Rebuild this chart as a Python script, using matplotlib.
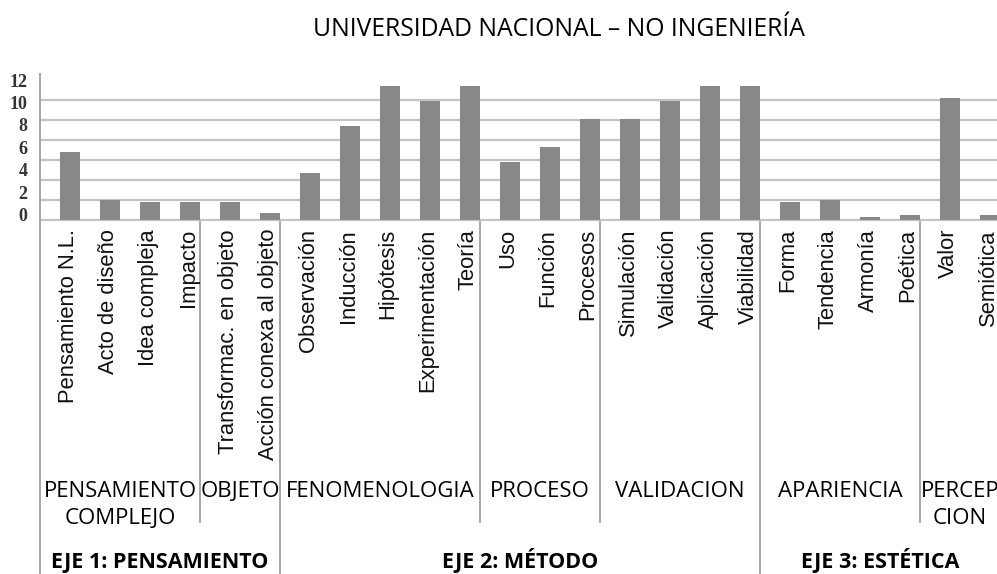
import numpy as np
import matplotlib
matplotlib.use("Agg")
import matplotlib.pyplot as plt

plt.rcParams["font.family"] = ["Liberation Sans", "DejaVu Sans"]

TITLE = "UNIVERSIDAD NACIONAL – NO INGENIERÍA"

CATEGORIES = [
    "Pensamiento N.L.", "Acto de diseño", "Idea compleja", "Impacto",
    "Transformac. en objeto", "Acción conexa al objeto",
    "Observación", "Inducción", "Hipótesis", "Experimentación", "Teoría",
    "Uso", "Función", "Procesos",
    "Simulación", "Validación", "Aplicación", "Viabilidad",
    "Forma", "Tendencia", "Armonía", "Poética",
    "Valor", "Semiótica",
]
VALUES = [
    6.8, 2.0, 1.8, 1.8,
    1.8, 0.7,
    4.7, 9.4, 13.4, 11.9, 13.4,
    5.8, 7.3, 10.1,
    10.1, 11.9, 13.4, 13.4,
    1.8, 2.0, 0.3, 0.5,
    12.2, 0.5,
]

# second tier: (label, first category, last category)
GROUPS = [
    ("PENSAMIENTO\nCOMPLEJO", 0, 3),
    ("OBJETO", 4, 5),
    ("FENOMENOLOGIA", 6, 10),
    ("PROCESO", 11, 13),
    ("VALIDACION", 14, 17),
    ("APARIENCIA", 18, 21),
    ("PERCEP\nCION", 22, 23),
]
AXES = [
    ("EJE 1: PENSAMIENTO", 0, 5),
    ("EJE 2: MÉTODO", 6, 17),
    ("EJE 3: ESTÉTICA", 18, 23),
]

YTICK_LABELS = ["0", "2", "4", "6", "8", "10", "12"]
YTICK_POS = [0.55, 2.8, 5.1, 7.3, 9.6, 11.8, 14.0]
GRID_VALUES = np.arange(0, 15, 2)

BAR_COLOR = "#888888"
GRID_COLOR = "#C4C4C4"
LINE_COLOR = "#A6A6A6"

W, H = 997, 574
fig = plt.figure(figsize=(W / 100, H / 100), dpi=100)

left_px, right_px = 40, 997
top_px, bottom_px = 74, 222.5
ax = fig.add_axes([left_px / W, 1 - bottom_px / H, (right_px - left_px) / W, (bottom_px - top_px) / H])

x = np.arange(len(CATEGORIES))
ax.bar(x + 0.75, VALUES, width=0.5, color=BAR_COLOR, zorder=3)
ax.set_xlim(0, (right_px - left_px) / 40)
ax.set_ylim(-0.25, 14.65)

ax.set_yticks(GRID_VALUES, minor=True)
ax.grid(which="minor", axis="y", color=GRID_COLOR, lw=1.6, zorder=0)
ax.set_yticks(YTICK_POS)
ax.set_yticklabels(YTICK_LABELS, family="Liberation Serif", fontweight="bold",
                   fontsize=13, color="#333333")
ax.tick_params(axis="y", which="both", length=0, pad=9)
ax.set_xticks([])
for s in ax.spines.values():
    s.set_visible(False)

# overlay for the category / group labels, x in category units, y in pixels from top
lab = fig.add_axes([left_px / W, 0, (right_px - left_px) / W, 1], facecolor="none")
lab.set_xlim(ax.get_xlim())
lab.set_ylim(H, 0)
lab.axis("off")

lab.plot([0, 0], [top_px, H], color=LINE_COLOR, lw=1.4, clip_on=False)

for i, name in enumerate(CATEGORIES):
    lab.text(i + 0.7, 229, name, rotation=90, ha="center", va="top",
             fontsize=15.8, color="#111111", clip_on=True)

tier3_bounds = [start for _, start, _ in AXES[1:]]
for _, start, end in GROUPS[1:]:
    y_end = H if start in tier3_bounds else 522
    lab.plot([start, start], [222, y_end], color=LINE_COLOR, lw=1.4)

for name, start, end in GROUPS:
    lab.text((start + end + 1) / 2, 481, name, ha="center", va="top",
             fontsize=16, family="Open Sans", linespacing=1.4, clip_on=True)

for name, start, end in AXES:
    lab.text((start + end + 1) / 2, 568, name, ha="center", va="baseline",
             fontsize=15.5, family="Open Sans", fontweight="bold")

fig.text(0.561, 1 - 29 / H, TITLE, ha="center", va="center",
         fontsize=17.8, family="Open Sans")

fig.savefig("out.png", dpi=100)
